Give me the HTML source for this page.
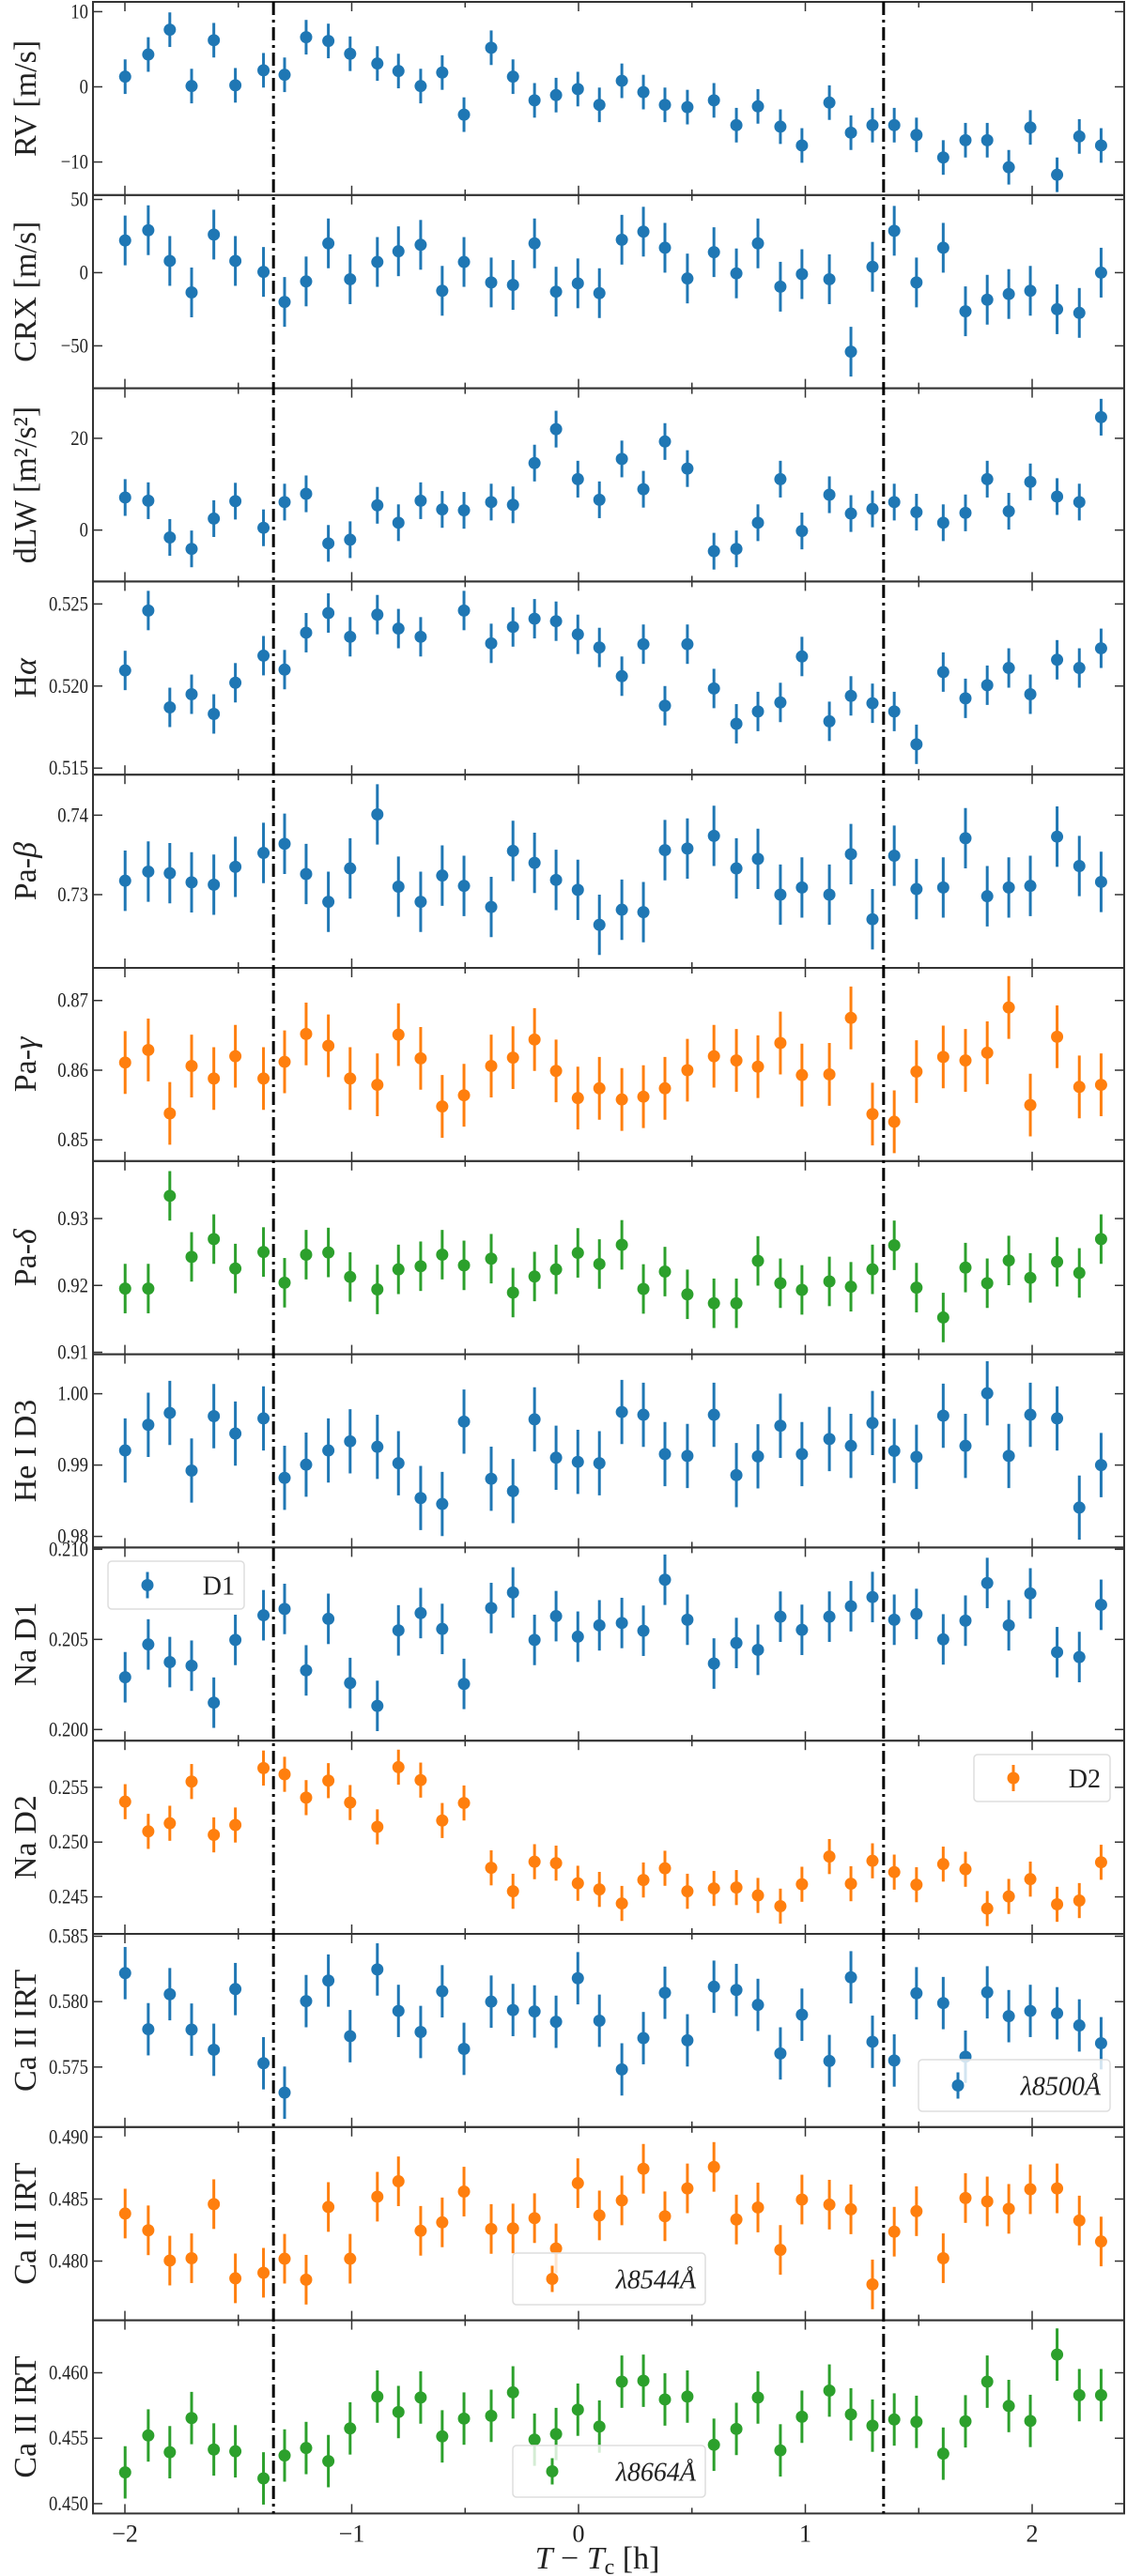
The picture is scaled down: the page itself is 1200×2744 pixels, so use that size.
<!DOCTYPE html>
<html><head><meta charset="utf-8"><title>Time series of spectral activity indicators</title>
<style>
html,body{margin:0;padding:0;background:#fff;}
svg{display:block;}
text{font-family:"Liberation Serif","DejaVu Serif",serif;fill:#222;}
</style></head>
<body>
<svg id="chart" width="1200" height="2744" viewBox="0 0 1200 2744" font-family="Liberation Serif, DejaVu Serif, serif" xmlns="http://www.w3.org/2000/svg"></svg>
<script>
// ---- data ----
const times = [-1.999,-1.897,-1.802,-1.706,-1.608,-1.513,-1.389,-1.296,-1.201,-1.103,-1.007,-0.887,-0.794,-0.696,-0.601,-0.505,-0.385,-0.289,-0.194,-0.099,-0.003,0.092,0.191,0.286,0.381,0.480,0.597,0.696,0.791,0.890,0.985,1.106,1.201,1.296,1.392,1.490,1.608,1.706,1.802,1.897,1.992,2.110,2.208,2.304];
const rv = [1.35,4.3,7.6,0.1,6.2,0.2,2.2,1.6,6.6,6.1,4.4,3.1,2.1,0.1,1.9,-3.7,5.2,1.35,-1.8,-1.1,-0.3,-2.4,0.8,-0.7,-2.4,-2.7,-1.8,-5.1,-2.6,-5.3,-7.8,-2.1,-6.1,-5.1,-5.1,-6.4,-9.4,-7.1,-7.1,-10.7,-5.4,-11.7,-6.6,-7.8];
const crx = [22,29,8,-13.5,26,8,0.5,-20,-6,20,-4.5,7.3,14.6,19,-12.4,7.3,-6.7,-8.4,20,-13,-7.3,-14,22.5,28,17,-4,14,-0.5,20,-9.6,-1,-4.5,-54,4,28.6,-6.7,17,-26.4,-18.5,-14.6,-12.4,-25,-27.5,0];
const dlw = [7.1,6.4,-1.6,-4.1,2.5,6.3,0.5,6.1,7.9,-2.9,-2.1,5.4,1.6,6.4,4.5,4.3,6.1,5.5,14.6,22,11.1,6.6,15.5,8.9,19.3,13.4,-4.6,-4.1,1.6,11.1,-0.2,7.7,3.6,4.6,6.1,3.9,1.6,3.75,11.1,4.1,10.5,7.3,6.1,24.6];
const halpha = [0.52095,0.5246,0.5187,0.5195,0.5183,0.5202,0.52185,0.521,0.52325,0.52445,0.523,0.52435,0.5235,0.523,null,0.5246,0.5226,0.5236,0.5241,0.52395,0.52315,0.52235,0.5206,0.52255,0.5188,0.52255,0.51985,0.5177,0.51845,0.519,0.5218,0.51785,0.5194,0.51895,0.51845,0.51645,0.52085,0.51925,0.52005,0.5211,0.5195,0.5216,0.5211,0.5223];
const pabeta = [0.73175,0.7329,0.7327,0.73155,0.73125,0.7335,0.73525,0.7364,0.7326,0.7291,0.7333,0.7401,0.731,0.7291,0.7324,0.7311,0.72845,0.7355,0.734,0.73185,0.7306,0.7262,0.7281,0.7278,0.7356,0.7358,0.7374,0.7333,0.7345,0.73,0.7309,0.73,0.7351,0.7269,0.7349,0.7307,0.7309,0.7371,0.7298,0.7309,0.7311,0.7373,0.7336,0.7316];
const pagamma = [0.8611,0.8629,0.8538,0.8606,0.8588,0.862,0.8588,0.8612,0.8652,0.8635,0.8588,0.8579,0.8651,0.8617,0.8548,0.8564,0.8606,0.8618,0.8644,0.8599,0.856,0.8574,0.8558,0.8562,0.8574,0.86,0.862,0.8614,0.8605,0.8639,0.8593,0.8594,0.8675,0.8537,0.8526,0.8598,0.8619,0.8614,0.8625,0.869,0.855,0.8648,0.8576,0.8579];
const padelta = [0.91953,0.91953,0.9334,0.92427,0.92693,0.92253,0.925,0.9204,0.9246,0.92493,0.92127,0.9194,0.9224,0.92287,0.9246,0.923,0.924,0.91893,0.92133,0.9224,0.92487,0.9232,0.92607,0.91947,0.92207,0.91867,0.91733,0.91733,0.92367,0.92033,0.91933,0.9206,0.9198,0.9224,0.926,0.91967,0.9152,0.92267,0.92033,0.92373,0.92113,0.92353,0.92187,0.92693];
const heD3 = [0.99205,0.99564,0.99731,0.98923,0.99686,0.99442,0.99654,0.98821,0.99006,0.99205,0.99333,0.99256,0.99026,0.98538,0.98455,0.99609,0.98808,0.98635,0.99641,0.99103,0.99045,0.99026,0.99744,0.99705,0.99154,0.99128,0.99705,0.98859,0.99122,0.99551,0.99154,0.99365,0.99269,0.9959,0.99199,0.99115,0.99692,0.99269,1.00006,0.99128,0.99705,0.99654,0.98404,0.99];
const naD1 = [0.2029,0.20472,0.20374,0.20354,0.20149,0.20497,0.20634,0.20669,0.20328,0.20614,0.20258,0.20131,0.2055,0.20646,0.20558,0.20253,0.20674,0.2076,0.20497,0.20629,0.20515,0.20578,0.20591,0.20548,0.20831,0.20609,0.20366,0.2048,0.20442,0.20626,0.20553,0.20626,0.20684,0.20735,0.20609,0.20641,0.205,0.20604,0.20813,0.20578,0.20755,0.20429,0.20402,0.20692];
const naD2 = [0.25369,0.25098,0.25172,0.25553,0.25066,0.25156,0.25676,0.25619,0.25406,0.25561,0.25361,0.25139,0.25684,0.25566,0.25197,0.25357,0.24765,0.24551,0.24821,0.24808,0.24624,0.24568,0.2444,0.24654,0.24761,0.24551,0.24577,0.24585,0.24513,0.24415,0.24615,0.24868,0.2462,0.24829,0.24726,0.24611,0.24799,0.24752,0.24393,0.24504,0.24662,0.24432,0.24466,0.24816];
const ca8500 = [0.58218,0.57789,0.58057,0.57786,0.57632,0.58096,0.57529,0.57304,0.58004,0.58161,0.57736,0.58246,0.57929,0.57768,0.58079,0.57639,0.58,0.57936,0.57925,0.57846,0.58179,0.57854,0.57482,0.57721,0.58068,0.57704,0.58114,0.58089,0.57975,0.57604,0.579,0.57546,0.58186,0.57693,0.5755,0.58064,0.57989,0.57579,0.58071,0.57889,0.57929,0.57911,0.57818,0.57682];
const ca8544 = [0.48383,0.48248,0.48004,0.48023,0.48459,0.47861,0.47906,0.48019,0.4785,0.48436,0.48019,0.48519,0.48643,0.48244,0.48312,0.4856,0.48259,0.48263,0.48346,0.48102,0.48628,0.48368,0.48489,0.48744,0.48361,0.48586,0.48759,0.48335,0.48432,0.4809,0.48496,0.48455,0.48417,0.47812,0.48237,0.48402,0.48023,0.48508,0.48481,0.48421,0.48579,0.48586,0.48327,0.48158];
const ca8664 = [0.45239,0.45521,0.45393,0.45654,0.45414,0.454,0.45193,0.45368,0.45425,0.45325,0.45575,0.45818,0.457,0.45811,0.45514,0.4565,0.45671,0.4585,0.45489,0.45532,0.45718,0.45589,0.45932,0.45939,0.45796,0.45818,0.4545,0.45571,0.45811,0.45407,0.45664,0.45864,0.45682,0.45596,0.45643,0.45625,0.45382,0.45629,0.45932,0.45746,0.45632,0.46139,0.45829,0.45829];
const errors = [2.3,17,4,0.0012,0.0038,0.0045,0.0037,0.0045,0.0014,0.0016,0.002,0.002,0.002];
const transits = [-1.345, 1.345];
const xTicks = [-2,-1,0,1,2];
const xTickLabels = ["\u22122","\u22121","0","1","2"];

// ---- panel configuration ----
const C1="#1f77b4", C2="#ff7f0e", C3="#2ca02c";
const panels = [
 {name:"rv", label:["RV [m/s]"], data:rv, ylim:[-14.4,11.3], ticks:[10,0,-10], tl:["10","0","\u221210"], c:C1},
 {name:"crx", label:["CRX [m/s]"], data:crx, ylim:[-79,53], ticks:[50,0,-50], tl:["50","0","\u221250"], c:C1},
 {name:"dlw", label:["dLW [m\u00B2/s\u00B2]"], data:dlw, ylim:[-11.2,30.9], ticks:[20,0], tl:["20","0"], c:C1},
 {name:"h-alpha", label:["H","\u03B1"], data:halpha, ylim:[0.5146,0.52637], ticks:[0.525,0.52,0.515], tl:["0.525","0.520","0.515"], c:C1},
 {name:"pa-beta", label:["Pa-","\u03B2"], data:pabeta, ylim:[0.72078,0.7451], ticks:[0.74,0.73], tl:["0.74","0.73"], c:C1},
 {name:"pa-gamma", label:["Pa-","\u03B3"], data:pagamma, ylim:[0.84696,0.87468], ticks:[0.87,0.86,0.85], tl:["0.87","0.86","0.85"], c:C2},
 {name:"pa-delta", label:["Pa-","\u03B4"], data:padelta, ylim:[0.9097,0.9386], ticks:[0.93,0.92,0.91], tl:["0.93","0.92","0.91"], c:C3},
 {name:"he-i-d3", label:["He I D3"], data:heD3, ylim:[0.97845,1.00553], ticks:[1.0,0.99,0.98], tl:["1.00","0.99","0.98"], c:C1},
 {name:"na-d1", label:["Na D1"], data:naD1, ylim:[0.19938,0.2101], ticks:[0.21,0.205,0.2], tl:["0.210","0.205","0.200"], c:C1, legend:{t:"D1", x0:115,y0:1663,w:145,h:51}},
 {name:"na-d2", label:["Na D2"], data:naD2, ylim:[0.24162,0.25926], ticks:[0.255,0.25,0.245], tl:["0.255","0.250","0.245"], c:C2, legend:{t:"D2", x0:1037,y0:1869,w:145,h:50}},
 {name:"ca-ii-8500", label:["Ca II IRT"], data:ca8500, ylim:[0.57041,0.58518], ticks:[0.585,0.58,0.575], tl:["0.585","0.580","0.575"], c:C1, legend:{t:"\u03BB8500\u00C5", x0:978,y0:2194,w:204,h:55}},
 {name:"ca-ii-8544", label:["Ca II IRT"], data:ca8544, ylim:[0.47523,0.4908], ticks:[0.49,0.485,0.48], tl:["0.490","0.485","0.480"], c:C2, legend:{t:"\u03BB8544\u00C5", x0:546,y0:2400,w:205,h:55}},
 {name:"ca-ii-8664", label:["Ca II IRT"], data:ca8664, ylim:[0.44925,0.46401], ticks:[0.46,0.455,0.45], tl:["0.460","0.455","0.450"], c:C3, legend:{t:"\u03BB8664\u00C5", x0:546,y0:2605,w:205,h:55}}
];

// ---- geometry ----
const L=99, R=1197, TOP=2, PH=205.8;
function xScale(h){ return 616 + 241.5*h; }
function yScale(p, i, v){ const t=TOP+i*PH, b=t+PH; return b - (v - p.ylim[0])/(p.ylim[1]-p.ylim[0])*PH; }

const NS="http://www.w3.org/2000/svg";
const svg=document.getElementById("chart");
function mk(tag, attrs, parent){
  const e=document.createElementNS(NS,tag);
  for(const k in attrs) e.setAttribute(k, attrs[k]);
  (parent||svg).appendChild(e); return e;
}
const SERIF="Liberation Serif, DejaVu Serif, serif";

panels.forEach((p,i)=>{
  const t=TOP+i*PH, b=t+PH;
  const g=mk("g",{});
  
  
  const fr=mk("rect",{x:L,y:t,width:R-L,height:PH,fill:"none",stroke:"#333","stroke-width":2},g);
  
  
  for(let h=-2; h<=2.01; h+=0.5){
    const x=xScale(h), len=(Math.abs(h-Math.round(h))<0.01)?10:6;
    mk("line",{x1:x,y1:b,x2:x,y2:b-len,stroke:"#333","stroke-width":1.5},g);
    mk("line",{x1:x,y1:t,x2:x,y2:t+len,stroke:"#333","stroke-width":1.5},g);
  }
  p.ticks.forEach((v,k)=>{
    const y=yScale(p,i,v);
    mk("line",{x1:L,y1:y,x2:L+10,y2:y,stroke:"#333","stroke-width":1.5},g);
    mk("line",{x1:R,y1:y,x2:R-10,y2:y,stroke:"#333","stroke-width":1.5},g);
    const tx=mk("text",{x:0,y:0,"text-anchor":"end","font-size":22,"font-family":SERIF,transform:`translate(${L-5},${y+7}) scale(0.85,1)`},g);
    tx.textContent=p.tl[k];
    
    
  });
  const cy=t+PH/2;
  const yl=mk("text",{x:0,y:0,"text-anchor":"middle","font-size":34,"font-family":SERIF,transform:`translate(38,${cy}) rotate(-90)`},g);
  
  
  const s1=mk("tspan",{},yl); s1.textContent=p.label[0];
  if(p.label[1]){ const s2=mk("tspan",{"font-style":"italic"},yl); s2.textContent=p.label[1]; }
  p.data.forEach((v,j)=>{
    if(v===null) return;
    const x=xScale(times[j]), y=yScale(p,i,v);
    const e1=yScale(p,i,v+errors[i]), e2=yScale(p,i,v-errors[i]);
    const pg=mk("g",{},g);
    
    
    mk("line",{x1:x,y1:e1,x2:x,y2:e2,stroke:p.c,"stroke-width":3},pg);
    mk("circle",{cx:x,cy:y,r:6.5,fill:p.c},pg);
  });
  if(p.legend){
    const lg=p.legend;
    const lgG=mk("g",{},g);
    
    
    mk("rect",{x:lg.x0,y:lg.y0,width:lg.w,height:lg.h,rx:4,fill:"rgba(255,255,255,0.8)",stroke:"#ddd","stroke-width":1.5},lgG);
    const mx=lg.x0+42, my=lg.y0+lg.h/2;
    mk("line",{x1:mx,y1:my-14,x2:mx,y2:my+14,stroke:p.c,"stroke-width":3},lgG);
    mk("circle",{cx:mx,cy:my,r:6.5,fill:p.c},lgG);
    const lt=mk("text",{x:lg.x0+lg.w-10,y:my+10,"text-anchor":"end","font-size":28,"font-family":SERIF,"font-style":lg.t.length>2?"italic":"normal"},lgG);
    lt.textContent=lg.t;
  }
});

transits.forEach(h=>{
  const x=xScale(h);
  const tl=mk("line",{x1:x,y1:TOP,x2:x,y2:TOP+13*PH,stroke:"#000","stroke-width":3,"stroke-dasharray":"14 5 3 5"});
  
  
});

const bottom=TOP+13*PH;
xTicks.forEach((h,k)=>{
  const tx=mk("text",{x:xScale(h),y:bottom+30,"text-anchor":"middle","font-size":26,"font-family":SERIF});
  tx.textContent=xTickLabels[k];
  
  
});
const xt=mk("text",{x:xScale(0)+20,y:2736,"text-anchor":"middle","font-size":34,"font-family":SERIF});


const a1=mk("tspan",{"font-style":"italic"},xt); a1.textContent="T";
const a2=mk("tspan",{},xt); a2.textContent=" \u2212 ";
const a3=mk("tspan",{"font-style":"italic"},xt); a3.textContent="T";
const a4=mk("tspan",{"font-size":24,dy:6},xt); a4.textContent="c";
const a5=mk("tspan",{dy:-6},xt); a5.textContent=" [h]";
</script>
</body></html>
